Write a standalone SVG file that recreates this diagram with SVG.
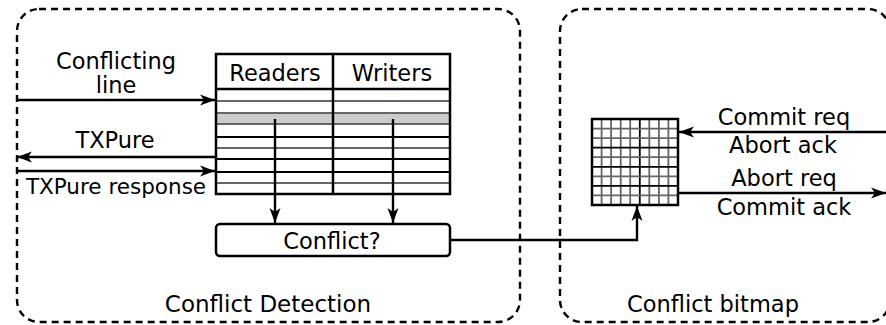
<svg xmlns="http://www.w3.org/2000/svg" width="886" height="325" viewBox="0 0 886 325">
<defs>
<marker id="ah" markerUnits="userSpaceOnUse" markerWidth="16" markerHeight="14" refX="15" refY="7" orient="auto">
<path d="M0,1.5 L15,7 L0,12.5 L4,7 z" fill="#000"/>
</marker>
<style>
text{font-family:"DejaVu Sans",sans-serif;font-size:22.5px;fill:#000;text-anchor:middle}
.box{fill:none;stroke:#000;stroke-width:2.4;stroke-dasharray:7,5}
.ln{fill:none;stroke:#000;stroke-width:2.5}
.arr{fill:none;stroke:#000;stroke-width:2.4;marker-end:url(#ah)}
.g{stroke:#666;stroke-width:1.8}
.b{stroke:#000;stroke-width:1.8}
</style>
</defs>
<g id="conflict-detection">
<rect class="box" x="17" y="9" width="503" height="313" rx="22"/>
<text x="268" y="312" style="font-size:23px">Conflict Detection</text>
</g>
<g id="conflict-bitmap-area">
<rect class="box" x="560" y="9" width="330" height="313" rx="22"/>
<text x="713" y="312">Conflict bitmap</text>
</g>
<g id="table">
<rect x="216" y="113" width="234" height="11" fill="#cccccc"/>
<line class="g" x1="216" y1="101" x2="450" y2="101"/>
<line class="g" x1="216" y1="113" x2="450" y2="113"/>
<line class="g" x1="216" y1="124" x2="450" y2="124"/>
<line class="b" x1="216" y1="137" x2="450" y2="137"/>
<line class="g" x1="216" y1="148" x2="450" y2="148"/>
<line class="b" x1="216" y1="159" x2="450" y2="159"/>
<line class="b" x1="216" y1="172" x2="450" y2="172"/>
<line class="g" x1="216" y1="183" x2="450" y2="183"/>
<line class="ln" x1="216" y1="89" x2="450" y2="89"/>
<line class="ln" x1="333" y1="54" x2="333" y2="194"/>
<rect class="ln" x="216" y="54" width="234" height="140"/>
<text x="275" y="81">Readers</text>
<text x="392" y="81">Writers</text>
</g>
<g id="conflict">
<rect class="ln" x="216" y="224" width="234" height="32" rx="4"/>
<text x="332" y="249">Conflict?</text>
</g>
<g id="bitmap">
<g class="g">
<line x1="601.6" y1="119" x2="601.6" y2="205"/>
<line x1="611.1" y1="119" x2="611.1" y2="205"/>
<line x1="620.7" y1="119" x2="620.7" y2="205"/>
<line x1="630.2" y1="119" x2="630.2" y2="205"/>
<line class="b" x1="639.8" y1="119" x2="639.8" y2="205"/>
<line x1="649.3" y1="119" x2="649.3" y2="205"/>
<line x1="658.9" y1="119" x2="658.9" y2="205"/>
<line x1="668.4" y1="119" x2="668.4" y2="205"/>
<line x1="592" y1="128.6" x2="678" y2="128.6"/>
<line x1="592" y1="138.1" x2="678" y2="138.1"/>
<line class="b" x1="592" y1="147.7" x2="678" y2="147.7"/>
<line x1="592" y1="157.2" x2="678" y2="157.2"/>
<line class="b" x1="592" y1="166.8" x2="678" y2="166.8"/>
<line x1="592" y1="176.3" x2="678" y2="176.3"/>
<line class="b" x1="592" y1="185.9" x2="678" y2="185.9"/>
<line x1="592" y1="195.4" x2="678" y2="195.4"/>
</g>
<rect class="ln" x="592" y="119" width="86" height="86"/>
</g>
<g id="connectors">
<line class="arr" x1="17" y1="100" x2="215" y2="100"/>
<line class="arr" x1="215" y1="157" x2="17" y2="157"/>
<line class="arr" x1="17" y1="171" x2="215" y2="171"/>
<line class="arr" x1="275" y1="119" x2="275" y2="223"/>
<line class="arr" x1="393" y1="119" x2="393" y2="223"/>
<polyline class="arr" points="451,240 637,240 637,206"/>
<line class="arr" x1="886" y1="132" x2="679" y2="132"/>
<line class="arr" x1="679" y1="193" x2="886" y2="193"/>
</g>
<g id="labels">
<text x="116" y="69">Conflicting</text>
<text x="116" y="93">line</text>
<text x="115" y="148">TXPure</text>
<text x="116" y="194" style="font-size:21.5px">TXPure response</text>
<text x="784" y="125">Commit req</text>
<text x="783" y="153">Abort ack</text>
<text x="784" y="186">Abort req</text>
<text x="784" y="215">Commit ack</text>
</g>
</svg>
